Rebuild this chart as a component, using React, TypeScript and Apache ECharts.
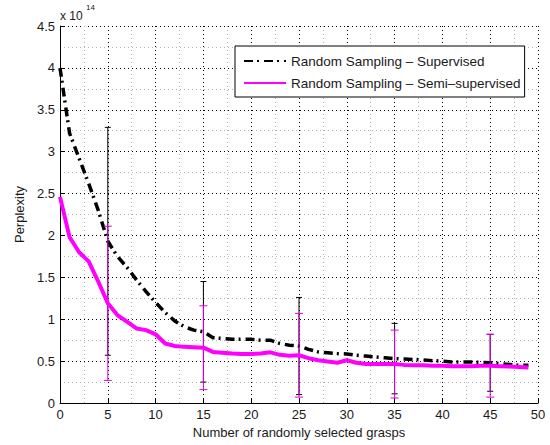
import React, { useEffect, useRef } from "react";
import * as echarts from "echarts";

// Number of randomly selected grasps (x positions of the curves)
const grasps = [
  0, 1, 2, 3, 4, 5, 6, 7, 8, 9,
  10, 11, 12, 13, 14, 15, 16, 17, 18, 19,
  20, 21, 22, 23, 24, 25, 26, 27, 28, 29,
  30, 31, 32, 33, 34, 35, 36, 37, 38, 39,
  40, 41, 42, 43, 44, 45, 46, 47, 48, 49,
];

// Perplexity, in units of 1e14
const supervised = [
  4.0, 3.22, 2.92, 2.62, 2.3, 1.93, 1.75, 1.62, 1.47, 1.33,
  1.2, 1.08, 0.98, 0.91, 0.87, 0.85, 0.78, 0.77, 0.76, 0.76,
  0.76, 0.75, 0.75, 0.71, 0.69, 0.68, 0.64, 0.61, 0.6, 0.59,
  0.585, 0.57, 0.56, 0.55, 0.54, 0.53, 0.525, 0.52, 0.515, 0.505,
  0.5, 0.49, 0.49, 0.49, 0.485, 0.48, 0.47, 0.46, 0.45, 0.45,
];

const semiSupervised = [
  2.46, 1.98, 1.8, 1.69, 1.45, 1.19, 1.05, 0.97, 0.89, 0.87,
  0.82, 0.71, 0.68, 0.67, 0.665, 0.66, 0.61, 0.6, 0.59, 0.585,
  0.585, 0.59, 0.605, 0.575, 0.565, 0.57, 0.535, 0.51, 0.495, 0.48,
  0.51, 0.48, 0.465, 0.465, 0.465, 0.465, 0.455, 0.45, 0.45, 0.445,
  0.445, 0.44, 0.44, 0.44, 0.445, 0.445, 0.44, 0.435, 0.43, 0.425,
];

// Error bars (half-width, 1e14 units) at selected grasp counts
const errorX = [5, 15, 25, 35, 45];
const supervisedErr = [1.36, 0.6, 0.58, 0.42, 0.34];
const semiSupervisedErr = [0.92, 0.5, 0.5, 0.405, 0.375];

const xTicks = { min: 0, max: 50, interval: 5 };
const yTicks = { min: 0, max: 4.5, interval: 0.5 };

const SUP_NAME = "Random Sampling \u2013 Supervised";
const SEMI_NAME = "Random Sampling \u2013 Semi\u2013supervised";

const FONT = "'Liberation Sans', Arial, Helvetica, sans-serif";
const MAGENTA = "#ff00ff";

function errorData(values: number[], errs: number[]) {
  return errorX.map((x, i) => {
    const m = values[grasps.indexOf(x)];
    return [x, m - errs[i], m + errs[i]];
  });
}

function errorRenderer(color: string, cap: number) {
  return (_params: any, api: any) => {
    const x = api.value(0);
    const top = api.coord([x, api.value(2)]);
    const bot = api.coord([x, api.value(1)]);
    const style = { stroke: color, lineWidth: 1, fill: "none" };
    return {
      type: "group",
      children: [
        { type: "line", shape: { x1: top[0], y1: top[1], x2: bot[0], y2: bot[1] }, style },
        { type: "line", shape: { x1: top[0] - cap, y1: top[1], x2: top[0] + cap, y2: top[1] }, style },
        { type: "line", shape: { x1: bot[0] - cap, y1: bot[1], x2: bot[0] + cap, y2: bot[1] }, style },
      ],
    };
  };
}

export default function App() {
  const ref = useRef<HTMLDivElement>(null);

  useEffect(() => {
    document.body.style.margin = "0";
    if (!ref.current) return;
    const chart = echarts.init(ref.current, undefined, { renderer: "svg" });

    const axisLabel = { color: "#1a1a1a", fontSize: 13, fontFamily: FONT };
    const splitLine = { show: true, lineStyle: { color: "#000", width: 1, type: [1, 3] as any } };
    const minorSplitLine = { show: true, lineStyle: { color: "#b0b0b0", width: 1, type: [1, 3] as any } };

    chart.setOption({
      animation: false,
      backgroundColor: "#fff",
      textStyle: { fontFamily: FONT },
      grid: { left: 60, right: 12, top: 26, bottom: 42, containLabel: false },
      legend: {
        data: [SUP_NAME, SEMI_NAME],
        orient: "vertical",
        left: 235,
        top: 46,
        padding: [8, 4, 7, 8],
        itemWidth: 42,
        itemHeight: 14,
        itemGap: 8,
        backgroundColor: "#fff",
        borderColor: "#000",
        borderWidth: 1,
        borderRadius: 0,
        itemStyle: { opacity: 0 },
        textStyle: { color: "#1a1a1a", fontSize: 13.5, fontFamily: FONT, padding: [0, 0, 0, 0] },
      },
      xAxis: {
        type: "value",
        ...xTicks,
        name: "Number of randomly selected grasps",
        nameLocation: "middle",
        nameGap: 20,
        nameTextStyle: { color: "#1a1a1a", fontSize: 13, fontFamily: FONT },
        axisLine: { show: true, onZero: false, lineStyle: { color: "#000", width: 1 } },
        axisTick: { show: true, inside: true, length: 4, lineStyle: { color: "#000" } },
        axisLabel: { ...axisLabel, margin: 5 },
        splitLine,
        minorTick: { show: false, splitNumber: 2 },
        minorSplitLine,
      },
      yAxis: {
        type: "value",
        ...yTicks,
        name: "Perplexity",
        nameLocation: "middle",
        nameGap: 24,
        nameTextStyle: { color: "#1a1a1a", fontSize: 13, fontFamily: FONT },
        axisLine: { show: true, onZero: false, lineStyle: { color: "#000", width: 1 } },
        axisTick: { show: true, inside: true, length: 4, lineStyle: { color: "#000" } },
        axisLabel: { ...axisLabel, margin: 5 },
        splitLine,
        minorTick: { show: false, splitNumber: 2 },
        minorSplitLine,
      },
      graphic: [
        {
          type: "text",
          left: 60,
          top: 10,
          style: { text: "x 10", fontSize: 12, fontFamily: FONT, fill: "#1a1a1a" },
        },
        {
          type: "text",
          left: 86,
          top: 3,
          style: { text: "14", fontSize: 8, fontFamily: FONT, fill: "#1a1a1a" },
        },
      ],
      series: [
        {
          name: SUP_NAME,
          type: "line",
          data: grasps.map((x, i) => [x, supervised[i]]),
          symbol: "none",
          lineStyle: { color: "#000", width: 3.5, type: [9, 4, 2, 5] },
          itemStyle: { color: "#000" },
          z: 3,
        },
        {
          name: "sup-err",
          type: "custom",
          data: errorData(supervised, supervisedErr),
          encode: { x: 0, y: [1, 2] },
          renderItem: errorRenderer("#000", 3),
          z: 3,
        },
        {
          name: SEMI_NAME,
          type: "line",
          data: grasps.map((x, i) => [x, semiSupervised[i]]),
          symbol: "none",
          lineStyle: { color: MAGENTA, width: 4 },
          itemStyle: { color: MAGENTA },
          z: 4,
        },
        {
          name: "semi-err",
          type: "custom",
          data: errorData(semiSupervised, semiSupervisedErr),
          encode: { x: 0, y: [1, 2] },
          renderItem: errorRenderer("#e000e0", 4),
          z: 4,
        },
      ],
    });

    return () => chart.dispose();
  }, []);

  return <div ref={ref} style={{ width: 550, height: 445 }} />;
}
